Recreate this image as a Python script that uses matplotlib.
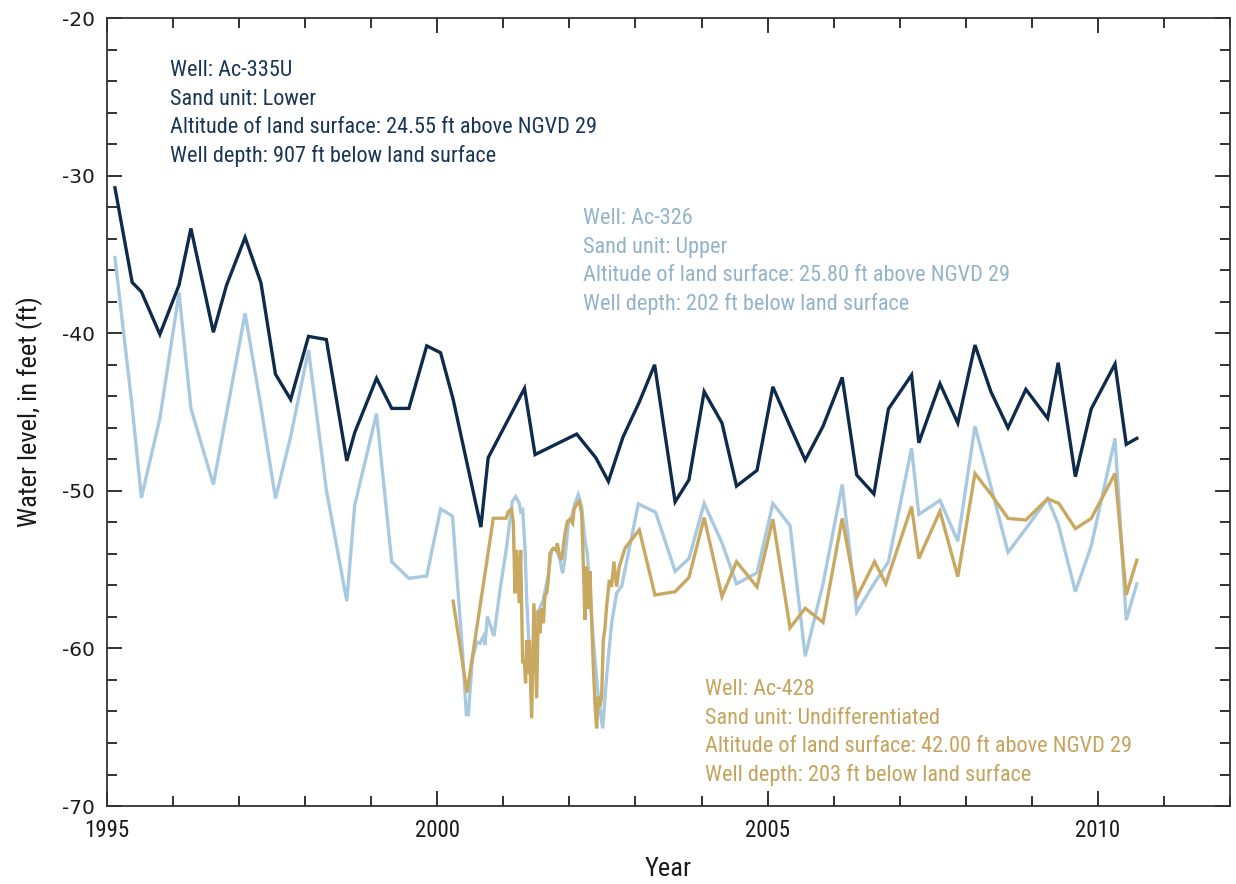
import matplotlib
matplotlib.use('Agg')
import matplotlib.pyplot as plt
from matplotlib import font_manager
from matplotlib.ticker import MultipleLocator

plt.rcParams['axes.unicode_minus'] = False

# narrow face for labels and notes, fall back to plain sans
names = {f.name for f in font_manager.fontManager.ttflist}
narrow = next((n for n in ['Liberation Sans Narrow', 'Roboto Condensed', 'Open Sans Condensed']
               if n in names), 'Liberation Sans')

# Well Ac-335U (lower sand)
ac335_year = [1995.12, 1995.38, 1995.52, 1995.80, 1996.09, 1996.27, 1996.61, 1996.81, 1997.09,
              1997.33, 1997.55, 1997.78, 1998.05, 1998.32, 1998.63, 1998.75, 1999.08, 1999.31,
              1999.57, 1999.84, 2000.05, 2000.24, 2000.66, 2000.77, 2001.32, 2001.48, 2002.11,
              2002.40, 2002.59, 2002.81, 2003.06, 2003.29, 2003.60, 2003.81, 2004.04, 2004.31,
              2004.53, 2004.84, 2005.08, 2005.34, 2005.57, 2005.84, 2006.13, 2006.35, 2006.61,
              2006.83, 2007.18, 2007.29, 2007.61, 2007.88, 2008.14, 2008.38, 2008.64, 2008.91,
              2009.24, 2009.40, 2009.66, 2009.90, 2010.26, 2010.43, 2010.59]
ac335_level = [-30.77, -36.77, -37.37, -40.07, -36.94, -33.35, -39.94, -36.94, -33.92,
               -36.80, -42.60, -44.20, -40.20, -40.40, -48.10, -46.30, -42.86, -44.77,
               -44.77, -40.80, -41.24, -44.20, -52.30, -47.90, -43.50, -47.70, -46.40,
               -47.90, -49.40, -46.60, -44.35, -42.00, -50.70, -49.30, -43.70, -45.70,
               -49.70, -48.70, -43.40, -45.90, -48.05, -45.90, -42.80, -49.00, -50.20,
               -44.80, -42.65, -46.95, -43.20, -45.70, -40.75, -43.70, -46.00, -43.56,
               -45.40, -41.87, -49.10, -44.80, -41.95, -47.05, -46.67]

# Well Ac-326 (upper sand)
ac326_year = [1995.12, 1995.38, 1995.52, 1995.80, 1996.09, 1996.27, 1996.61, 1997.09, 1997.33,
              1997.55, 1997.78, 1998.05, 1998.32, 1998.63, 1998.75, 1999.08, 1999.31, 1999.57,
              1999.84, 2000.05, 2000.23, 2000.38, 2000.44, 2000.47, 2000.53, 2000.60, 2000.646,
              2000.696, 2000.722, 2000.757, 2000.858, 2000.949, 2001.05, 2001.135, 2001.186,
              2001.241, 2001.262, 2001.292, 2001.327, 2001.352, 2001.403, 2001.43, 2001.479,
              2001.529, 2001.605, 2001.68, 2001.731, 2001.796, 2001.857, 2001.898, 2001.933,
              2001.983, 2002.034, 2002.084, 2002.134, 2002.185, 2002.235, 2002.27, 2002.361,
              2002.437, 2002.503, 2002.563, 2002.639, 2002.715, 2002.765, 2002.79, 2003.043,
              2003.305, 2003.60, 2003.81, 2004.04, 2004.31, 2004.53, 2004.84, 2005.08, 2005.34,
              2005.57, 2005.84, 2006.13, 2006.35, 2006.61, 2006.83, 2007.18, 2007.29, 2007.61,
              2007.88, 2008.14, 2008.38, 2008.64, 2008.91, 2009.24, 2009.40, 2009.66, 2009.90,
              2010.26, 2010.43, 2010.59]
ac326_level = [-35.20, -44.66, -50.44, -45.40, -37.43, -44.77, -49.60, -38.74, -44.66,
               -50.48, -46.56, -41.07, -49.95, -57.00, -50.90, -45.10, -54.50, -55.55,
               -55.40, -51.15, -51.60, -60.10, -64.20, -64.20, -60.70, -59.60, -59.67,
               -59.25, -59.78, -57.98, -59.21, -56.29, -53.54, -50.68, -50.37,
               -50.79, -51.32, -51.21, -53.54, -56.71, -61.15, -61.60, -58.20,
               -57.66, -56.92, -55.34, -53.75, -53.65, -54.39, -55.23, -54.28,
               -52.06, -51.64, -50.79, -50.26, -51.00, -53.12, -53.96, -59.46,
               -63.06, -65.07, -61.79, -58.40, -56.50, -56.18, -56.08, -50.83,
               -51.36, -55.10, -54.30, -50.80, -53.30, -55.90, -55.20, -50.80, -52.20,
               -60.50, -55.90, -49.60, -57.70, -55.90, -54.50, -47.30, -51.50, -50.60,
               -53.20, -45.90, -49.70, -53.90, -52.40, -50.50, -52.10, -56.40, -53.50,
               -46.67, -58.20, -55.90]

# Well Ac-428 (undifferentiated)
ac428_year = [2000.24, 2000.45, 2000.848, 2001.04, 2001.075, 2001.125, 2001.151, 2001.176,
              2001.201, 2001.241, 2001.262, 2001.292, 2001.317, 2001.337, 2001.352, 2001.378,
              2001.393, 2001.428, 2001.463, 2001.504, 2001.529, 2001.554, 2001.579, 2001.605,
              2001.63, 2001.655, 2001.68, 2001.706, 2001.756, 2001.796, 2001.817, 2001.847,
              2001.882, 2001.933, 2001.968, 2002.008, 2002.049, 2002.069, 2002.109, 2002.15,
              2002.185, 2002.21, 2002.235, 2002.26, 2002.286, 2002.311, 2002.362, 2002.387,
              2002.412, 2002.437, 2002.462, 2002.488, 2002.513, 2002.538, 2002.563, 2002.604,
              2002.639, 2002.674, 2002.715, 2002.755, 2002.841, 2003.058, 2003.295, 2003.60,
              2003.81, 2004.04, 2004.31, 2004.53, 2004.84, 2005.08, 2005.34, 2005.57, 2005.84,
              2006.13, 2006.35, 2006.62, 2006.79, 2007.18, 2007.29, 2007.61, 2007.88, 2008.14,
              2008.38, 2008.64, 2008.91, 2009.24, 2009.41, 2009.66, 2009.90, 2010.26, 2010.43,
              2010.59]
ac428_level = [-57.00, -62.80, -51.74, -51.74, -51.32, -51.17, -52.06, -56.50,
               -53.75, -57.14, -53.75, -60.94, -60.73, -62.21, -59.46, -61.58,
               -59.46, -64.43, -57.14, -63.16, -57.56, -59.04, -57.45, -58.40,
               -56.61, -56.50, -55.66, -53.96, -53.65, -53.75, -53.33, -54.07,
               -54.39, -52.69, -51.95, -51.80, -52.06, -51.21, -50.85, -50.68,
               -51.43, -54.60, -58.19, -54.81, -57.50, -55.10, -61.15, -63.48,
               -65.07, -63.06, -63.69, -63.06, -59.46, -58.72, -57.35, -55.66,
               -56.08, -54.49, -56.08, -54.81, -53.65, -52.48, -56.61, -56.40,
               -55.50, -51.70, -56.70, -54.50, -56.10, -51.80, -58.70, -57.45, -58.35,
               -51.75, -56.76, -54.50, -55.90, -51.00, -54.30, -51.30, -55.45, -48.90,
               -50.20, -51.75, -51.85, -50.50, -50.80, -52.40, -51.75, -48.90, -56.60,
               -54.40]

notes_335 = ['Well: Ac-335U', 'Sand unit: Lower',
             'Altitude of land surface: 24.55 ft above NGVD 29',
             'Well depth: 907 ft below land surface']
notes_326 = ['Well: Ac-326', 'Sand unit: Upper',
             'Altitude of land surface: 25.80 ft above NGVD 29',
             'Well depth: 202 ft below land surface']
notes_428 = ['Well: Ac-428', 'Sand unit: Undifferentiated',
             'Altitude of land surface: 42.00 ft above NGVD 29',
             'Well depth: 203 ft below land surface']

navy = '#0f2b4c'
sky = '#a8c9e0'
tan = '#c9a862'

fig = plt.figure(figsize=(12.36, 8.84), dpi=100)
ax = fig.add_axes([0.0866, 0.0882, 0.9085, 0.8914])

ax.plot(ac326_year, ac326_level, color=sky, lw=2.4, solid_joinstyle='miter')
ax.plot(ac428_year, ac428_level, color=tan, lw=2.4, solid_joinstyle='miter')
ax.plot(ac335_year, ac335_level, color=navy, lw=2.4, solid_joinstyle='miter')

ax.set_xlim(1995, 2012)
ax.set_ylim(-70, -20)
ax.xaxis.set_major_locator(MultipleLocator(5))
ax.xaxis.set_minor_locator(MultipleLocator(1))
ax.yaxis.set_major_locator(MultipleLocator(10))
ax.yaxis.set_minor_locator(MultipleLocator(2))
ax.tick_params(which='both', direction='in', top=True, right=True, color='#222222', width=1.3)
ax.tick_params(which='major', length=11)
ax.tick_params(which='minor', length=7)
ax.tick_params(axis='y', which='major', labelsize=14.5, pad=9, labelcolor='#1a1a1a')
ax.tick_params(axis='x', which='major', labelsize=16.5, pad=9, labelcolor='#1a1a1a')
for lab in ax.get_xticklabels():
    lab.set_fontfamily(narrow)
for s in ax.spines.values():
    s.set_linewidth(1.3)
    s.set_color('#333333')

ax.set_xlabel('Year', fontsize=19, fontfamily=narrow, labelpad=11, color='#1a1a1a')
ax.set_ylabel('Water level, in feet (ft)', fontsize=19, fontfamily=narrow, labelpad=13,
              color='#1a1a1a')


def notes(lines, px, py, color):
    # px, py: left edge and first baseline in figure pixels
    for i, line in enumerate(lines):
        ax.text((px - 107) / 1123, (806 - (py + i * 28.6)) / 788, line,
                transform=ax.transAxes, fontsize=16, fontfamily=narrow,
                color=color, va='baseline', ha='left')


notes(notes_335, 170, 76, '#1b3556')
notes(notes_326, 583, 224, '#93b3cb')
notes(notes_428, 705, 695, '#c4a35c')

fig.savefig('out.png', dpi=100)
